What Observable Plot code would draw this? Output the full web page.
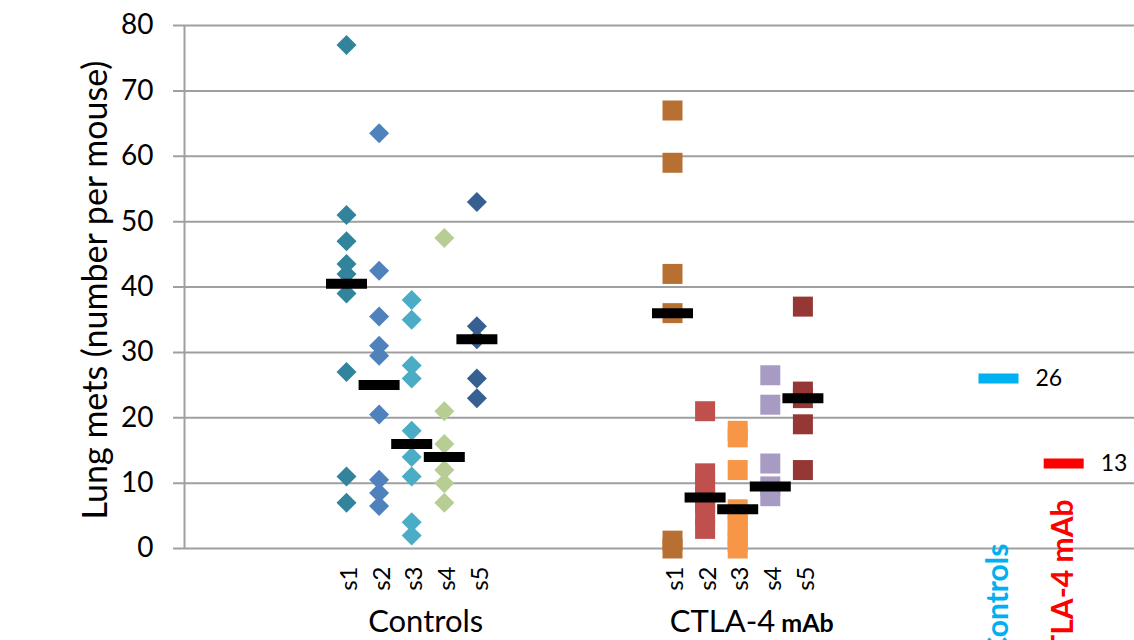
<!DOCTYPE html>
<html>
<head>
<meta charset="utf-8">
<script src="https://cdn.jsdelivr.net/npm/d3@7"></script>
<script src="https://cdn.jsdelivr.net/npm/@observablehq/plot@0.6"></script>
<style>
  html, body { margin: 0; padding: 0; overflow: hidden; background: #fff; }
</style>
</head>
<body>
<div id="chart"></div>
<script>
// ---------------- data ----------------
const subjects = ["s1", "s2", "s3", "s4", "s5"];
const groups = ["Controls", "CTLA-4 mAb"];
const yTicks = [0, 10, 20, 30, 40, 50, 60, 70, 80];
const yTitle = "Lung mets (number per mouse)";

const controlsValues = [
  [77, 51, 47, 43.5, 42, 39, 27, 11, 7],
  [63.5, 42.5, 35.5, 31, 29.5, 20.5, 10.5, 8.5, 6.5],
  [38, 35, 28, 26, 18, 14, 11, 4, 2],
  [47.5, 21, 16, 12, 10, 7],
  [53, 34, 32, 26, 23]
];
const ctlaValues = [
  [67, 59, 42, 36, 1.2, 0],
  [21, 11.5, 10, 8, 7, 5, 3],
  [18, 17, 12, 6, 5, 3.5, 2, 1, 0],
  [26.5, 22, 13, 9.5, 8],
  [37, 24, 23, 19, 12]
];
const controlsMedians = [40.5, 25, 16, 14, 32];
const ctlaMedians = [36, 7.8, 6, 9.5, 23];

const controlsColors = ["#31849B", "#4F81BD", "#4BACC6", "#B7CD93", "#376092"];
const ctlaColors = ["#B86F32", "#C0504D", "#F79646", "#A79BC3", "#953735"];

const summaryLabels = ["Controls", "CTLA-4 mAb"];
const summaryValues = [26, 13];
const summaryColors = ["#00B0F0", "#FF0000"];

// ---------------- layout (category slots) ----------------
const groupStart = [0, 10];
const summarySlot = [20, 22];
const xMin = -(346 - 184) / 32.6;
const xMax = (1134 - 346) / 32.6;
const FONT = "Lato, 'Open Sans', sans-serif";
const GRID = "#9f9f9f";

const points = [];
[controlsValues, ctlaValues].forEach((grp, g) =>
  grp.forEach((vals, s) =>
    vals.forEach(v => points.push({
      group: g, slot: groupStart[g] + s, value: v,
      color: (g === 0 ? controlsColors : ctlaColors)[s]
    }))));

const medians = [];
[controlsMedians, ctlaMedians].forEach((m, g) =>
  m.forEach((v, s) => medians.push({slot: groupStart[g] + s, value: v})));

const subjectTicks = [];
groups.forEach((gname, g) =>
  subjects.forEach((s, i) => subjectTicks.push({slot: groupStart[g] + i, label: s})));

const summary = summaryLabels.map((l, i) => ({
  label: l, slot: summarySlot[i], value: summaryValues[i], color: summaryColors[i]
}));

// custom symbols (fixed pixel shapes)
const diamondSym = {draw(ctx) { const r = 10; ctx.moveTo(0, -r); ctx.lineTo(r, 0); ctx.lineTo(0, r); ctx.lineTo(-r, 0); ctx.closePath(); }};
const squareSym = {draw(ctx) { ctx.rect(-10, -10, 20, 20); }};
const medianSym = {draw(ctx) { ctx.rect(-20.5, -5, 41, 10); }};
const legendSym = {draw(ctx) { ctx.rect(-20, -5, 40, 10); }};

// rotated category labels of the summary slots (label end offsets above the axis)
const summaryLabelOffsets = [-5, -49];
const summaryLabelMarks = summary.map((d, i) =>
  Plot.text([d], {x: "slot", text: "label", frameAnchor: "bottom", rotate: -90,
    textAnchor: "end", lineAnchor: "middle", dy: summaryLabelOffsets[i], fontSize: 30,
    fontWeight: "bold", fill: "color"}));

const chart = Plot.plot({
  width: 1134,
  height: 640,
  marginLeft: 184,
  marginRight: 0,
  marginTop: 25,
  marginBottom: 92,
  x: {domain: [xMin, xMax], axis: null},
  y: {domain: [0, 80], axis: null},
  color: {type: "identity"},
  style: {fontFamily: FONT, overflow: "hidden", background: "white", color: "black"},
  marks: [
    // grid lines + tick marks
    Plot.ruleY(yTicks, {stroke: GRID, strokeWidth: 2, insetLeft: -11}),
    // vertical axis line
    Plot.ruleX([xMin], {y1: 0, y2: 80, stroke: GRID, strokeWidth: 2}),
    // y tick labels
    Plot.text(yTicks, {y: d => d, text: d => String(d), frameAnchor: "left", textAnchor: "end",
      dx: -31, fontSize: 28, fill: "black", lineAnchor: "middle"}),
    // y title
    Plot.text([yTitle], {frameAnchor: "left", rotate: -90, dx: -88, dy: 3, fontSize: 34,
      fill: "black", textAnchor: "middle", lineAnchor: "middle"}),
    // data points
    Plot.dot(points.filter(d => d.group === 0), {x: "slot", y: "value", symbol: diamondSym,
      fill: "color", stroke: "none"}),
    Plot.dot(points.filter(d => d.group === 1), {x: "slot", y: "value", symbol: squareSym,
      fill: "color", stroke: "none"}),
    // median bars
    Plot.dot(medians, {x: "slot", y: "value", symbol: medianSym, fill: "black", stroke: "none"}),
    // summary legend bars and values
    Plot.dot(summary, {x: "slot", y: "value", symbol: legendSym, fill: "color", stroke: "none"}),
    Plot.text(summary, {x: "slot", y: "value", text: d => String(d.value), dx: 37,
      textAnchor: "start", fontSize: 23, fill: "black", lineAnchor: "middle"}),
    // subject tick labels
    Plot.text(subjectTicks, {x: "slot", text: "label", frameAnchor: "bottom", rotate: -90,
      textAnchor: "end", lineAnchor: "middle", dy: 18, dx: 3, fontSize: 24, fill: "black"}),
    // group labels
    Plot.text(groups, {x: (d, i) => groupStart[i] + 2, text: d => d, frameAnchor: "bottom",
      dy: 74, dx: 14, fontSize: 31, fill: "black", lineAnchor: "middle"}),
    ...summaryLabelMarks
  ]
});

// mixed styling for the "CTLA-4 mAb" group label (the non-rotated one)
d3.select(chart).selectAll("text").each(function() {
  const t = d3.select(this);
  const s = t.text();
  const tr = t.attr("transform") || "";
  if (s === groups[1] && !tr.includes("rotate")) {
    t.text(null);
    t.append("tspan").text(s.replace(" mAb", ""));
    t.append("tspan").attr("font-weight", "bold").attr("font-size", 25).text(" mAb");
  }
});

document.getElementById("chart").appendChild(chart);
</script>
</body>
</html>
